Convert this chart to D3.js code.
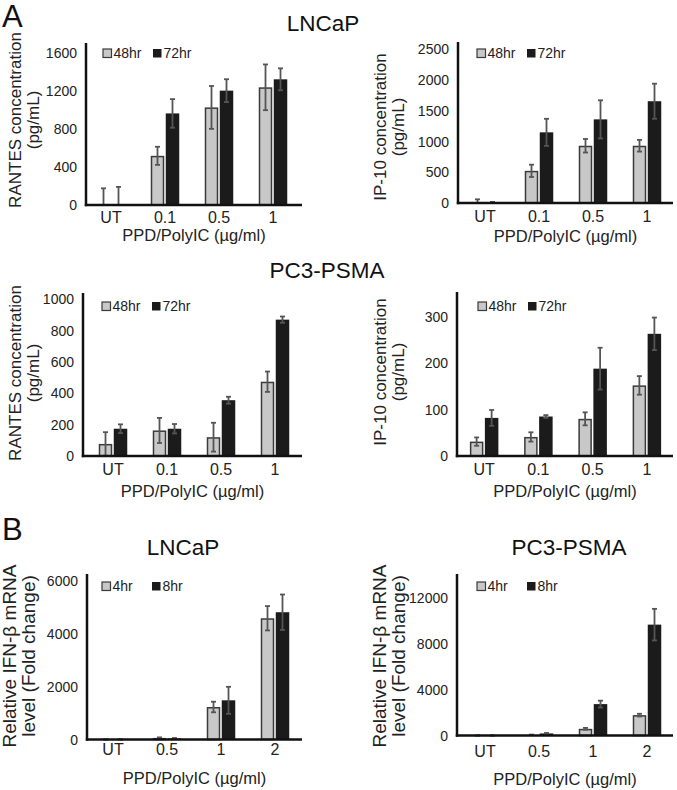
<!DOCTYPE html>
<html><head><meta charset="utf-8">
<script src="https://cdn.jsdelivr.net/npm/d3@7"></script>
<style>body{margin:0;background:#fff}svg{display:block;font-family:"Liberation Sans",Arial,sans-serif}</style>
</head><body><svg id="c" width="677" height="790"></svg>
<script>
// ---- data ----
const catsA = ["UT", "0.1", "0.5", "1"];
const catsB = ["UT", "0.5", "1", "2"];
const seriesA = ["48hr", "72hr"];
const seriesB = ["4hr", "8hr"];

const lncapRantes48 = [0, 516, 1024, 1235];
const lncapRantes48Err = [175, 95, 225, 240];
const lncapRantes72 = [0, 961, 1200, 1319];
const lncapRantes72Err = [190, 150, 120, 115];

const lncapIP48 = [5, 523, 931, 931];
const lncapIP48Err = [55, 100, 110, 95];
const lncapIP72 = [3, 1149, 1360, 1655];
const lncapIP72Err = [15, 220, 310, 285];

const pc3Rantes48 = [77, 163, 120, 474];
const pc3Rantes48Err = [75, 80, 92, 65];
const pc3Rantes72 = [174, 174, 356, 870];
const pc3Rantes72Err = [28, 30, 22, 20];

const pc3IP48 = [31, 41, 80, 152];
const pc3IP48Err = [9, 10, 14, 20];
const pc3IP72 = [82, 85, 188, 263];
const pc3IP72Err = [17, 3, 45, 35];

const lncapIFN4 = [2, 60, 1228, 4582];
const lncapIFN4Err = [1, 20, 200, 460];
const lncapIFN8 = [2, 40, 1481, 4810];
const lncapIFN8Err = [1, 15, 510, 670];

const pc3IFN4 = [2, 60, 584, 1781];
const pc3IFN4Err = [1, 20, 80, 120];
const pc3IFN8 = [2, 180, 2745, 9693];
const pc3IFN8Err = [1, 40, 300, 1380];

const ticksRantesL = [0, 400, 800, 1200, 1600];
const ticksIPL = [0, 500, 1000, 1500, 2000, 2500];
const ticksRantesP = [0, 200, 400, 600, 800, 1000];
const ticksIPP = [0, 100, 200, 300];
const ticksIFNL = [0, 2000, 4000, 6000];
const ticksIFNP = [0, 4000, 8000, 12000];

const xTitle = "PPD/PolyIC (\u00b5g/ml)";

// ---- panels (layout) ----
const panels = [
  {cats: catsA, series: seriesA, v1: lncapRantes48, e1: lncapRantes48Err, v2: lncapRantes72, e2: lncapRantes72Err,
   ticks: ticksRantesL, ymax: 1700, ax: 86, base: 205, top: 43, right: 302, bx: [84, 300],
   ylab: ["RANTES concentration", "(pg/mL)"], ylx: [21, 39], yly: 120, yfs: 17, legY: 53, legX: 103,
   xlabY: 223, xtY: 241},
  {cats: catsA, series: seriesA, v1: lncapIP48, e1: lncapIP48Err, v2: lncapIP72, e2: lncapIP72Err,
   ticks: ticksIPL, ymax: 2618, ax: 458, base: 203, top: 42, right: 673, bx: [458, 674],
   ylab: ["IP-10 concentration", "(pg/mL)"], ylx: [386, 404], yly: 127, yfs: 17, legY: 53, legX: 477,
   xlabY: 222, xtY: 242},
  {cats: catsA, series: seriesA, v1: pc3Rantes48, e1: pc3Rantes48Err, v2: pc3Rantes72, e2: pc3Rantes72Err,
   ticks: ticksRantesP, ymax: 1040, ax: 83, base: 456, top: 293, right: 302, bx: [86, 302],
   ylab: ["RANTES concentration", "(pg/mL)"], ylx: [21, 39], yly: 373, yfs: 17, legY: 306, legX: 102,
   xlabY: 475, xtY: 497},
  {cats: catsA, series: seriesA, v1: pc3IP48, e1: pc3IP48Err, v2: pc3IP72, e2: pc3IP72Err,
   ticks: ticksIPP, ymax: 353, ax: 457, base: 456, top: 292, right: 673, bx: [457, 674],
   ylab: ["IP-10 concentration", "(pg/mL)"], ylx: [386, 404], yly: 372, yfs: 17, legY: 306, legX: 478,
   xlabY: 475, xtY: 497},
  {cats: catsB, series: seriesB, v1: lncapIFN4, e1: lncapIFN4Err, v2: lncapIFN8, e2: lncapIFN8Err,
   ticks: ticksIFNL, ymax: 6255, ax: 87, base: 739.5, top: 574, right: 302, bx: [86, 302],
   ylab: ["Relative IFN-\u03b2 mRNA", "level (Fold change)"], ylx: [16, 35], yly: 656, yfs: 19, legY: 586, legX: 102,
   xlabY: 755, xtY: 784},
  {cats: catsB, series: seriesB, v1: pc3IFN4, e1: pc3IFN4Err, v2: pc3IFN8, e2: pc3IFN8Err,
   ticks: ticksIFNP, ymax: 14120, ax: 457, base: 735.5, top: 574, right: 673, bx: [458, 674],
   ylab: ["Relative IFN-\u03b2 mRNA", "level (Fold change)"], ylx: [386, 405], yly: 656, yfs: 19, legY: 586, legX: 477,
   xlabY: 757, xtY: 785}
];

const svg = d3.select("#c");
const LIGHT = "#c8c8c8", DARK = "#1b1b1b", OUT = "#3a3a3a", ERR = "#555";

// titles
const titles = [
  {t: "A", x: 2, y: 27, fs: 31, a: "start"},
  {t: "LNCaP", x: 323, y: 31, fs: 22.5, a: "middle"},
  {t: "PC3-PSMA", x: 327, y: 278, fs: 22.5, a: "middle"},
  {t: "B", x: 2, y: 540, fs: 31, a: "start"},
  {t: "LNCaP", x: 183, y: 555, fs: 22.5, a: "middle"},
  {t: "PC3-PSMA", x: 569, y: 555, fs: 22.5, a: "middle"}
];
svg.selectAll("text.title").data(titles).join("text").attr("class", "title")
  .attr("x", d => d.x).attr("y", d => d.y).attr("font-size", d => d.fs)
  .attr("text-anchor", d => d.a).attr("fill", "#111").text(d => d.t);

panels.forEach(p => {
  const g = svg.append("g");
  const y = d3.scaleLinear().domain([0, p.ymax]).range([p.base, p.top]);
  const x = d3.scaleBand().domain(p.cats).range(p.bx).paddingInner(0).paddingOuter(0);
  const bw = 13.5, gap = 1.5;
  const x1 = d3.scaleOrdinal().domain([0, 1]).range([-bw - gap / 2, gap / 2]);

  const rows = [];
  p.cats.forEach((c, i) => {
    rows.push({c, s: 0, v: p.v1[i], e: p.e1[i]});
    rows.push({c, s: 1, v: p.v2[i], e: p.e2[i]});
  });

  // bars
  g.selectAll("rect.bar").data(rows).join("rect").attr("class", "bar")
    .attr("x", d => x(d.c) + x.bandwidth() / 2 + x1(d.s) + (d.s === 0 ? 0.75 : 0))
    .attr("width", d => d.s === 0 ? bw - 1.5 : bw)
    .attr("y", d => y(d.v) + (d.s === 0 ? 0.75 : 0))
    .attr("height", d => Math.max(0, p.base - y(d.v) - (d.s === 0 ? 0.75 : 0)))
    .attr("fill", d => d.s === 0 ? LIGHT : DARK)
    .attr("stroke", d => d.s === 0 ? OUT : "none")
    .attr("stroke-width", 1.5);

  // error bars
  const ex = d => x(d.c) + x.bandwidth() / 2 + x1(d.s) + bw / 2;
  const eg = g.selectAll("g.err").data(rows).join("g").attr("class", "err")
    .attr("stroke", ERR).attr("stroke-width", 1.8);
  eg.append("line").attr("x1", ex).attr("x2", ex)
    .attr("y1", d => y(Math.max(0, d.v - d.e))).attr("y2", d => y(d.v + d.e));
  eg.append("line").attr("x1", d => ex(d) - 2.5).attr("x2", d => ex(d) + 2.5)
    .attr("y1", d => y(d.v + d.e)).attr("y2", d => y(d.v + d.e));
  eg.filter(d => d.v - d.e > 0).append("line").attr("x1", d => ex(d) - 2.5).attr("x2", d => ex(d) + 2.5)
    .attr("y1", d => y(d.v - d.e)).attr("y2", d => y(d.v - d.e));

  // axes
  g.append("line").attr("x1", p.ax).attr("x2", p.ax).attr("y1", p.top).attr("y2", p.base + 1.2)
    .attr("stroke", "#111").attr("stroke-width", 2.5);
  g.append("line").attr("x1", p.ax - 1.2).attr("x2", p.right).attr("y1", p.base).attr("y2", p.base)
    .attr("stroke", "#111").attr("stroke-width", 2.5);

  // y tick labels
  g.selectAll("text.yt").data(p.ticks).join("text").attr("class", "yt")
    .attr("x", p.ax - 9).attr("y", d => y(d) + 5).attr("text-anchor", "end")
    .attr("font-size", 14).attr("fill", "#222").text(d => d);

  // x tick labels
  g.selectAll("text.xt").data(p.cats).join("text").attr("class", "xt")
    .attr("x", d => x(d) + x.bandwidth() / 2).attr("y", p.xlabY).attr("text-anchor", "middle")
    .attr("font-size", 16).attr("fill", "#222").text(d => d);

  // x title
  g.append("text").attr("x", (p.ax + p.right) / 2).attr("y", p.xtY).attr("text-anchor", "middle")
    .attr("font-size", 16.5).attr("fill", "#222").text(xTitle);

  // y title
  p.ylab.forEach((t, i) => {
    g.append("text").attr("transform", `translate(${p.ylx[i]},${p.yly}) rotate(-90)`)
      .attr("text-anchor", "middle").attr("font-size", p.yfs).attr("fill", "#222").text(t);
  });

  // legend
  const lg = g.append("g");
  const items = [{s: 0, t: p.series[0], x: p.legX}, {s: 1, t: p.series[1], x: p.legX + 50}];
  lg.selectAll("rect").data(items).join("rect")
    .attr("x", d => d.x).attr("y", p.legY - 4).attr("width", 8.5).attr("height", 8.5)
    .attr("fill", d => d.s === 0 ? LIGHT : DARK).attr("stroke", d => d.s === 0 ? OUT : "none").attr("stroke-width", 1.2);
  lg.selectAll("text").data(items).join("text")
    .attr("x", d => d.x + 10.5).attr("y", p.legY + 5).attr("font-size", 14).attr("fill", "#222").text(d => d.t);
});
</script></body></html>
